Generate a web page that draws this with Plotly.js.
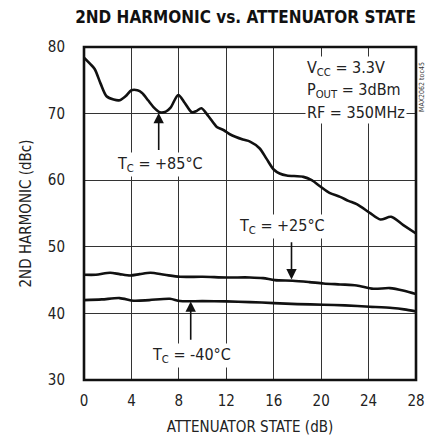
<!DOCTYPE html>
<html>
<head>
<meta charset="utf-8">
<script src="https://cdn.plot.ly/plotly-3.0.1.min.js"></script>
<style>html,body{margin:0;padding:0;background:#fff;}#chart{width:426px;height:436px;}</style>
</head>
<body>
<div id="chart"></div>
<script>
// Attenuator state (dB) and 2nd harmonic (dBc)
const x85 = [0, 0.5, 0.9, 1.4, 1.9, 2.5, 3.0, 3.5, 4.0, 4.5, 4.9, 5.4, 5.9, 6.4, 6.9, 7.3, 7.95, 8.5, 9.1, 9.5, 9.9, 10.5, 11.2, 11.8, 12.3, 13.4, 14.0, 14.8, 15.4, 16.0, 16.5, 17.1, 18.5, 19.2, 19.9, 20.7, 21.6, 22.3, 23.0, 24.1, 25.0, 25.9, 26.9, 28];
const y85 = [78.4, 77.5, 76.7, 74.5, 72.6, 72.1, 72.0, 72.6, 73.5, 73.5, 73.1, 72.0, 70.9, 70.2, 70.3, 70.9, 72.8, 71.6, 70.2, 70.4, 70.8, 69.6, 68.0, 67.5, 66.9, 66.1, 65.8, 64.8, 63.2, 61.6, 61.0, 60.7, 60.5, 60.0, 59.1, 58.1, 57.5, 56.9, 56.4, 55.1, 54.1, 54.5, 53.3, 52.0];
const x25 = [0, 1, 2.2, 3.0, 3.9, 4.7, 5.6, 6.8, 8.1, 10, 12, 14, 15.1, 16.1, 17.6, 19, 20.2, 21.6, 23.0, 24.4, 25.8, 27, 28];
const y25 = [45.8, 45.8, 46.1, 45.9, 45.7, 45.9, 46.1, 45.8, 45.5, 45.5, 45.4, 45.4, 45.3, 45.0, 44.9, 44.7, 44.5, 44.35, 44.2, 43.7, 43.8, 43.4, 42.9];
const xm40 = [0, 1.5, 3.0, 4.2, 5.5, 7.25, 8.1, 10, 12, 14, 16, 18, 20.2, 22, 24.1, 26, 27, 28];
const ym40 = [42.0, 42.1, 42.3, 41.9, 42.0, 42.2, 41.85, 41.85, 41.8, 41.7, 41.55, 41.4, 41.3, 41.2, 41.0, 40.8, 40.6, 40.3];
const xTicks = [0, 4, 8, 12, 16, 20, 24, 28];
const yTicks = [30, 40, 50, 60, 70, 80];
const curveLabels = ['T<sub>C</sub> = +85°C', 'T<sub>C</sub> = +25°C', 'T<sub>C</sub> = -40°C'];
const condLines = ['V<sub>CC</sub> = 3.3V', 'P<sub>OUT</sub> = 3dBm', 'RF = 350MHz'];

const FONT = '"Liberation Sans Narrow", "DejaVu Sans Condensed", "Arial Narrow", sans-serif';
const lineStyle = {color: '#111', width: 2.6, shape: 'spline', smoothing: 0.8};

const traces = [
  {x: x85, y: y85, mode: 'lines', line: lineStyle, hoverinfo: 'skip'},
  {x: x25, y: y25, mode: 'lines', line: lineStyle, hoverinfo: 'skip'},
  {x: xm40, y: ym40, mode: 'lines', line: lineStyle, hoverinfo: 'skip'}
];

const txt = {family: FONT, size: 16, color: '#222'};
function label(text, x, y) {
  return {text: text, x: x, y: y, xref: 'x', yref: 'y', showarrow: false, font: txt,
          bgcolor: '#fff', borderpad: 1, xanchor: 'center', yanchor: 'middle'};
}
function arrow(x, yTip, yTail) {
  return {text: '', x: x, y: yTip, ax: x, ay: yTail, xref: 'x', yref: 'y', axref: 'x', ayref: 'y',
          showarrow: true, arrowhead: 2, arrowsize: 1.3, arrowwidth: 1.6, arrowcolor: '#111'};
}
const annotations = [
  label(curveLabels[0], 6.4, 62.3),
  label(curveLabels[1], 16.7, 53.0),
  label(curveLabels[2], 9.1, 33.75),
  arrow(6.3, 70.1, 64.3),
  arrow(17.5, 45.1, 50.9),
  arrow(9.0, 41.8, 35.8),
  {text: condLines[0], x: 18.6, y: 76.8, xref: 'x', yref: 'y', showarrow: false, font: txt, bgcolor: '#fff', xanchor: 'left', yanchor: 'middle', borderpad: 1},
  {text: condLines[1], x: 18.6, y: 73.5, xref: 'x', yref: 'y', showarrow: false, font: txt, bgcolor: '#fff', xanchor: 'left', yanchor: 'middle', borderpad: 1},
  {text: condLines[2], x: 18.6, y: 70.2, xref: 'x', yref: 'y', showarrow: false, font: txt, bgcolor: '#fff', xanchor: 'left', yanchor: 'middle', borderpad: 1},
  {text: 'MAX2062 toc45', x: 1.0, y: 0.88, xref: 'paper', yref: 'paper', xanchor: 'left', yanchor: 'middle', xshift: 0,
   showarrow: false, textangle: -90, font: {family: FONT, size: 7, color: '#333'}}
];

const layout = {
  width: 426, height: 436,
  margin: {l: 84, r: 10, t: 47, b: 56},
  paper_bgcolor: '#fff', plot_bgcolor: '#fff',
  showlegend: false,
  font: {family: FONT, color: '#222'},
  title: {text: '<b>2ND HARMONIC vs. ATTENUATOR STATE</b>', xref: 'paper', x: 1, xanchor: 'right',
          yref: 'container', y: 0.96, yanchor: 'middle',
          font: {family: FONT, size: 17, color: '#111'}},
  xaxis: {range: [0, 28], tickvals: xTicks, ticktext: xTicks.map(String), showgrid: true, gridcolor: '#333', gridwidth: 1,
          zeroline: false, showline: false, ticks: '', ticklabelstandoff: 10, tickfont: {family: FONT, size: 15, color: '#222'},
          title: {text: 'ATTENUATOR STATE (dB)', font: {family: FONT, size: 15, color: '#222'}, standoff: 12}},
  yaxis: {range: [30, 80], tickvals: yTicks, ticktext: yTicks.map(String), showgrid: true, gridcolor: '#333', gridwidth: 1,
          zeroline: false, showline: false, ticks: '', ticklabelstandoff: 18, tickfont: {family: FONT, size: 15, color: '#222'},
          title: {text: '2ND HARMONIC (dBc)', font: {family: FONT, size: 15, color: '#222'}, standoff: 12}},
  shapes: [{type: 'rect', xref: 'paper', yref: 'paper', x0: 0, x1: 1, y0: 0, y1: 1, line: {color: '#111', width: 2.6}}],
  annotations: annotations
};

Plotly.newPlot('chart', traces, layout, {staticPlot: true, displayModeBar: false});
</script>
</body>
</html>
